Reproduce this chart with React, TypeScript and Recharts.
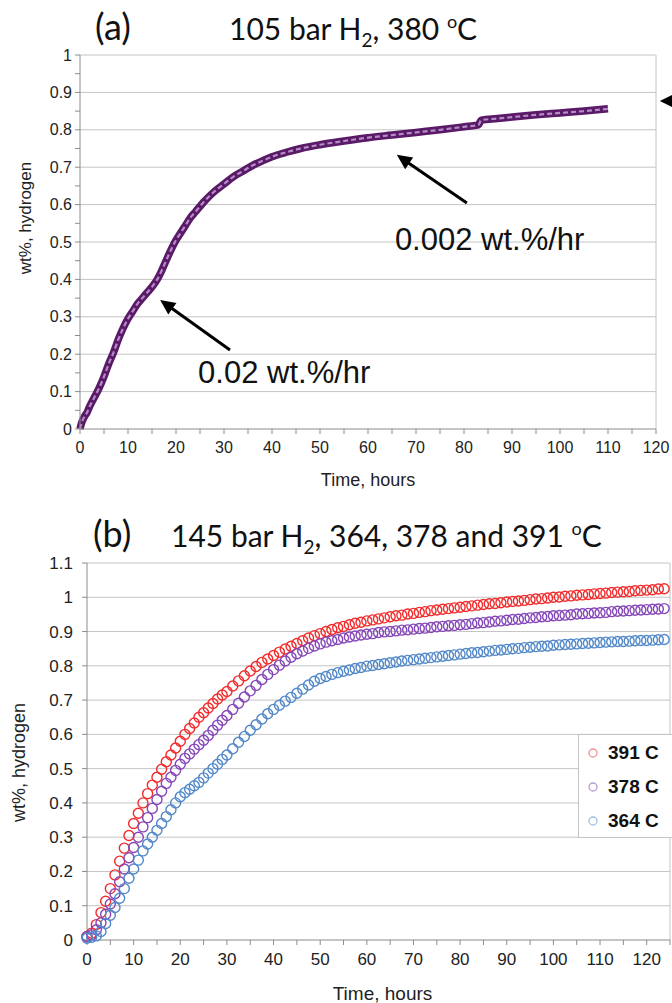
import { CartesianGrid, Legend, Line, LineChart, ReferenceDot, ReferenceLine, XAxis, YAxis } from 'recharts';

const FONT = '"Liberation Sans", Arial, sans-serif';
const TITLE_FONT = 'Lato, "Open Sans", sans-serif';
const GRID = '#c4c4c4';
const AXIS = '#8c8c8c';

// (a) 105 bar H2, 380 C — hours / wt%
const timeA = [
  0, 0.3, 0.6, 1, 1.5, 2, 3, 4, 5, 6,
  7, 8, 9, 10, 11, 12, 13, 14, 15, 16,
  17, 18, 19, 20, 21, 22, 23, 24,
  26, 28, 30, 32, 34, 36, 38, 40,
  43, 46, 50, 55, 60, 65, 70, 75, 80,
  83, 83.6, 87, 90, 95, 100, 105, 110,
];
const wtA = [
  0, 0.015, 0.025, 0.035, 0.045, 0.06, 0.085, 0.11, 0.14, 0.175,
  0.205, 0.24, 0.27, 0.295, 0.315, 0.335, 0.35, 0.365, 0.38, 0.398,
  0.423, 0.452, 0.48, 0.505, 0.525, 0.545, 0.565, 0.58,
  0.61, 0.635, 0.655, 0.675, 0.69, 0.705, 0.717, 0.728,
  0.74, 0.75, 0.76, 0.77, 0.779, 0.786, 0.793, 0.8, 0.808,
  0.813, 0.826, 0.83, 0.834, 0.84, 0.845, 0.85, 0.856,
];
const xTicksA = [0, 5, 10, 15, 20, 25, 30, 35, 40, 45, 50, 55, 60, 65, 70, 75, 80, 85, 90, 95, 100, 105, 110, 115, 120];
const yTicksA = [0, 0.05, 0.1, 0.15, 0.2, 0.25, 0.3, 0.35, 0.4, 0.45, 0.5, 0.55, 0.6, 0.65, 0.7, 0.75, 0.8, 0.85, 0.9, 0.95, 1];
const yGridA = [0.1, 0.2, 0.3, 0.4, 0.5, 0.6, 0.7, 0.8, 0.9, 1];

// (b) 145 bar H2 at three temperatures (hourly log, then every 1.25 h)
const timeB = [
  0, 1, 2, 3, 4, 5, 6, 7, 8, 9,
  10, 11, 12, 13, 14, 15, 16, 17, 18, 19,
  20, 21, 22, 23, 24, 25, 26, 27, 28, 29,
  30,
  31.25, 32.5, 33.75, 35, 36.25, 37.5, 38.75, 40,
  41.25, 42.5, 43.75, 45, 46.25, 47.5, 48.75, 50,
  51.25, 52.5, 53.75, 55, 56.25, 57.5, 58.75, 60,
  61.25, 62.5, 63.75, 65, 66.25, 67.5, 68.75, 70,
  71.25, 72.5, 73.75, 75, 76.25, 77.5, 78.75, 80,
  81.25, 82.5, 83.75, 85, 86.25, 87.5, 88.75, 90,
  91.25, 92.5, 93.75, 95, 96.25, 97.5, 98.75, 100,
  101.25, 102.5, 103.75, 105, 106.25, 107.5, 108.75, 110,
  111.25, 112.5, 113.75, 115, 116.25, 117.5, 118.75, 120,
  121.25, 122.5, 123.75,
];
const wt391 = [
  0.01, 0.02, 0.045, 0.08, 0.113, 0.15, 0.19, 0.23, 0.268, 0.305,
  0.34, 0.37, 0.4, 0.427, 0.452, 0.475, 0.498, 0.52, 0.54, 0.56,
  0.58, 0.6, 0.617, 0.633, 0.65, 0.663, 0.677, 0.69, 0.703, 0.715,
  0.725,
  0.741, 0.756, 0.771, 0.785, 0.798, 0.81, 0.82, 0.83,
  0.84, 0.849, 0.857, 0.865, 0.873, 0.881, 0.888, 0.894,
  0.9, 0.906, 0.911, 0.915, 0.92, 0.924, 0.927, 0.931,
  0.934, 0.937, 0.94, 0.943, 0.946, 0.948, 0.951, 0.953,
  0.956, 0.958, 0.961, 0.963, 0.965, 0.967, 0.969, 0.971,
  0.973, 0.975, 0.977, 0.979, 0.981, 0.982, 0.984, 0.986,
  0.988, 0.989, 0.991, 0.993, 0.995, 0.996, 0.998, 1.0,
  1.001, 1.003, 1.004, 1.006, 1.007, 1.008, 1.01, 1.011,
  1.012, 1.014, 1.015, 1.016, 1.017, 1.019, 1.02, 1.021,
  1.022, 1.024, 1.025,
];
const wt378 = [
  0.01, 0.015, 0.03, 0.05, 0.075, 0.105, 0.135, 0.17, 0.207, 0.24,
  0.27, 0.3, 0.33, 0.357, 0.384, 0.41, 0.434, 0.457, 0.475, 0.495,
  0.513, 0.53, 0.543, 0.557, 0.57, 0.583, 0.597, 0.612, 0.627, 0.641,
  0.655,
  0.673, 0.691, 0.709, 0.727, 0.743, 0.76, 0.775, 0.789,
  0.802, 0.814, 0.825, 0.835, 0.843, 0.851, 0.858, 0.864,
  0.869, 0.873, 0.877, 0.881, 0.884, 0.887, 0.89, 0.892,
  0.894, 0.897, 0.899, 0.9, 0.902, 0.904, 0.905, 0.907,
  0.909, 0.91, 0.912, 0.914, 0.915, 0.917, 0.918, 0.92,
  0.921, 0.923, 0.925, 0.926, 0.928, 0.93, 0.931, 0.933,
  0.935, 0.936, 0.938, 0.94, 0.941, 0.943, 0.944, 0.946,
  0.947, 0.948, 0.949, 0.951, 0.952, 0.953, 0.954, 0.955,
  0.956, 0.958, 0.959, 0.96, 0.961, 0.962, 0.963, 0.964,
  0.965, 0.966, 0.967,
];
const wt364 = [
  0.005, 0.008, 0.012, 0.025, 0.048, 0.072, 0.095, 0.122, 0.15, 0.18,
  0.207, 0.233, 0.26, 0.28, 0.3, 0.32, 0.34, 0.36, 0.38, 0.4,
  0.418, 0.43, 0.44, 0.45, 0.46, 0.473, 0.487, 0.5, 0.513, 0.527,
  0.54,
  0.558, 0.577, 0.594, 0.612, 0.628, 0.645, 0.66, 0.673,
  0.685, 0.697, 0.708, 0.72, 0.732, 0.744, 0.755, 0.763,
  0.769, 0.775, 0.78, 0.784, 0.788, 0.792, 0.795, 0.799,
  0.801, 0.804, 0.806, 0.809, 0.811, 0.814, 0.816, 0.818,
  0.82, 0.822, 0.824, 0.826, 0.828, 0.83, 0.832, 0.834,
  0.836, 0.838, 0.839, 0.841, 0.843, 0.845, 0.846, 0.848,
  0.85, 0.851, 0.853, 0.854, 0.856, 0.857, 0.858, 0.86,
  0.861, 0.862, 0.863, 0.864, 0.865, 0.866, 0.867, 0.868,
  0.869, 0.87, 0.871, 0.871, 0.872, 0.873, 0.874, 0.874,
  0.875, 0.876, 0.877,
];
const xTicksB = [0, 5, 10, 15, 20, 25, 30, 35, 40, 45, 50, 55, 60, 65, 70, 75, 80, 85, 90, 95, 100, 105, 110, 115, 120, 125];
const yTicksB = [0, 0.1, 0.2, 0.3, 0.4, 0.5, 0.6, 0.7, 0.8, 0.9, 1, 1.1];

const seriesB = [
  { key: 'c391', name: '391 C', color: '#f22c2c', legend: '#f29292', values: wt391 },
  { key: 'c378', name: '378 C', color: '#8446b8', legend: '#b89ad8', values: wt378 },
  { key: 'c364', name: '364 C', color: '#5288c8', legend: '#a0bfe4', values: wt364 },
];

const majorOnly = (v: number) => (Math.round(v * 100) % 10 === 0 ? String(Math.round(v * 10) / 10) : '');
const tensOnly = (v: number) => (v % 10 === 0 ? String(v) : '');

const axisTitle = (text: string, size: number, ox: number, oy: number, rotate: boolean) => (props: any) => {
  const vb = props.viewBox || props;
  const cx = rotate ? vb.x + ox : vb.x + vb.width / 2 + ox;
  const cy = rotate ? vb.y + vb.height / 2 + oy : vb.y + oy;
  return (
    <text x={cx} y={cy} textAnchor="middle" dominantBaseline="central" fontFamily={FONT} fontSize={size} fill="#222"
      transform={rotate ? `rotate(-90 ${cx} ${cy})` : undefined}>
      {text}
    </text>
  );
};

const arrowShape = (p: any) => {
  const { x1, y1, x2, y2 } = p;
  const a = Math.atan2(y2 - y1, x2 - x1);
  const len = 15;
  const half = 7;
  const bx = x2 - len * Math.cos(a);
  const by = y2 - len * Math.sin(a);
  const lx = bx + half * Math.sin(a);
  const ly = by - half * Math.cos(a);
  const rx = bx - half * Math.sin(a);
  const ry = by + half * Math.cos(a);
  return (
    <g>
      <line x1={x1} y1={y1} x2={bx + 3 * Math.cos(a)} y2={by + 3 * Math.sin(a)} stroke="#000" strokeWidth={3} />
      <path d={`M${x2},${y2} L${lx},${ly} L${rx},${ry} Z`} fill="#000" />
    </g>
  );
};

const noteText = (text: string) => (p: any) => (
  <text x={p.cx} y={p.cy} dominantBaseline="central" fontFamily={FONT} fontSize={31} fill="#111">{text}</text>
);

const edgeArrow = (p: any) => (
  <path d={`M${p.cx},${p.cy} L${p.cx + 16},${p.cy - 8} L${p.cx + 12},${p.cy} L${p.cx + 16},${p.cy + 8} Z`} fill="#000" />
);

function LegendBox() {
  return (
    <div style={{ width: 94, height: 104, background: '#fff', border: '1px solid #c4c4c4', borderRight: 'none', boxSizing: 'border-box', paddingTop: 1 }}>
      {seriesB.map((s) => (
        <div key={s.key} style={{ display: 'flex', alignItems: 'center', height: 34 }}>
          <svg width={29} height={34} style={{ flex: 'none' }}>
            <circle cx={14} cy={17} r={4} fill="none" stroke={s.legend} strokeWidth={1.3} />
          </svg>
          <span style={{ fontFamily: FONT, fontWeight: 700, fontSize: 19, color: '#111' }}>{s.name}</span>
        </div>
      ))}
    </div>
  );
}

export default function App() {
  const rowsA = timeA.map((t, i) => ({ t, wt: wtA[i] }));
  const rowsB = timeB.map((t, i) => ({ t, c391: wt391[i], c378: wt378[i], c364: wt364[i] }));
  const tickStyle = (size: number) => ({ fill: '#222', fontSize: size, fontFamily: FONT });

  return (
    <div style={{ position: 'absolute', left: 0, top: 0, width: 672, height: 1003, background: '#fff', overflow: 'hidden' }}>
      <svg width={672} height={1003} style={{ position: 'absolute', left: 0, top: 0 }}>
        <text x={95} y={40} fontFamily={TITLE_FONT} fontSize={36} fill="#111">(a)</text>
        <text x={229} y={40} fontFamily={TITLE_FONT} fontSize={30} fill="#111">
          105 bar H<tspan fontSize={19} dy={7}>2</tspan>
          <tspan dy={-7}>{', 380 '}</tspan>
          <tspan fontSize={18} dy={-12}>o</tspan>
          <tspan dy={12}>C</tspan>
        </text>
        <text x={93} y={547} fontFamily={TITLE_FONT} fontSize={36} fill="#111">(b)</text>
        <text x={171} y={547} fontFamily={TITLE_FONT} fontSize={30} fill="#111">
          145 bar H<tspan fontSize={19} dy={7}>2</tspan>
          <tspan dy={-7}>{', 364, 378 and 391 '}</tspan>
          <tspan fontSize={18} dy={-12}>o</tspan>
          <tspan dy={12}>C</tspan>
        </text>
      </svg>

      <div style={{ position: 'absolute', left: 0, top: 0 }}>
        <LineChart width={672} height={500} data={rowsA} margin={{ top: 55, right: 16, bottom: 11, left: 5 }}>
          <CartesianGrid stroke={GRID} vertical={false} horizontalValues={yGridA} />
          <ReferenceLine x={120} stroke={GRID} />
          <XAxis dataKey="t" type="number" domain={[0, 120]} ticks={xTicksA} tickFormatter={tensOnly} interval={0}
            height={60} tickSize={5} tickMargin={8} axisLine={{ stroke: AXIS }} tickLine={{ stroke: AXIS }} tick={tickStyle(16)}
            label={axisTitle('Time, hours', 18, 0, 51, false)} />
          <YAxis type="number" domain={[0, 1]} ticks={yTicksA} tickFormatter={majorOnly} interval={0}
            width={75} tickSize={5} tickMargin={3} axisLine={{ stroke: AXIS }} tickLine={{ stroke: AXIS }} tick={tickStyle(16)}
            label={axisTitle('wt%, hydrogen', 17, 20, -24, true)} />
          <Line dataKey="wt" type="monotone" stroke="#5a1a68" strokeWidth={7.5} dot={false} activeDot={false} isAnimationActive={false} />
          <Line dataKey="wt" type="monotone" stroke="#b48cc6" strokeWidth={2.2} strokeDasharray="5 3" dot={false} activeDot={false} isAnimationActive={false} />
          <ReferenceLine segment={[{ x: 31.25, y: 0.211 }, { x: 16.7, y: 0.345 }]} shape={arrowShape} ifOverflow="visible" />
          <ReferenceLine segment={[{ x: 80.6, y: 0.604 }, { x: 66, y: 0.733 }]} shape={arrowShape} ifOverflow="visible" />
          <ReferenceDot x={24.6} y={0.15} r={0} shape={noteText('0.02 wt.%/hr')} ifOverflow="visible" />
          <ReferenceDot x={65.6} y={0.508} r={0} shape={noteText('0.002 wt.%/hr')} ifOverflow="visible" />
          <ReferenceDot x={120.8} y={0.877} r={0} shape={edgeArrow} ifOverflow="visible" />
        </LineChart>
      </div>

      <div style={{ position: 'absolute', left: 0, top: 500 }}>
        <LineChart width={672} height={503} data={rowsB} margin={{ top: 63, right: 2, bottom: 8, left: 5 }}>
          <CartesianGrid stroke={GRID} vertical={false} horizontalValues={yTicksB.slice(1)} />
          <ReferenceLine x={125} stroke={GRID} />
          <XAxis dataKey="t" type="number" domain={[0, 125]} ticks={xTicksB} tickFormatter={tensOnly} interval={0}
            height={55} tickSize={5} tickMargin={8} axisLine={{ stroke: AXIS }} tickLine={{ stroke: AXIS }} tick={tickStyle(17)}
            label={axisTitle('Time, hours', 19, 4, 53, false)} />
          <YAxis type="number" domain={[0, 1.1]} ticks={yTicksB} tickFormatter={majorOnly} interval={0}
            width={82} tickSize={5} tickMargin={9} axisLine={{ stroke: AXIS }} tickLine={{ stroke: AXIS }} tick={tickStyle(17)}
            label={axisTitle('wt%, hydrogen', 18, 14, 11, true)} />
          {seriesB.map((s) => (
            <Line key={s.key} dataKey={s.key} name={s.name} stroke="none" isAnimationActive={false} activeDot={false}
              dot={{ r: 5, stroke: s.color, strokeWidth: 1.4, fill: 'none' }} />
          ))}
          <Legend layout="vertical" align="center" verticalAlign="middle" content={() => <LegendBox />}
            wrapperStyle={{ left: 578, top: 234, width: 94, height: 104 }} />
        </LineChart>
      </div>
    </div>
  );
}
